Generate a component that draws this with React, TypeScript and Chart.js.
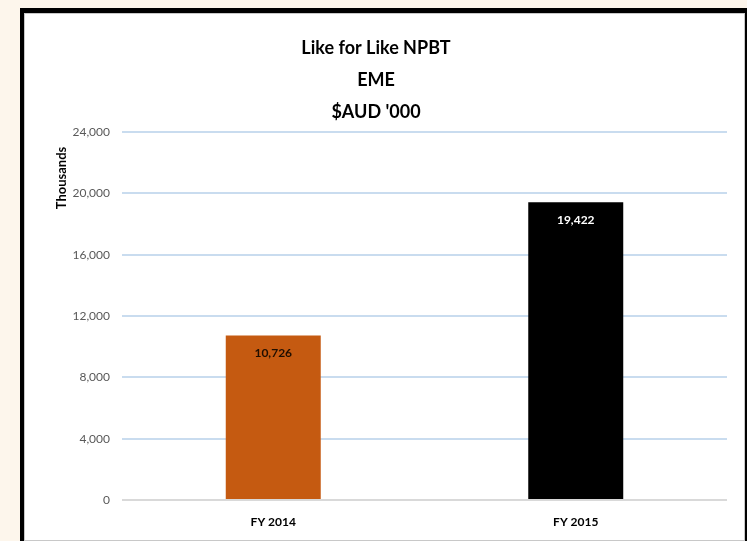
import React, { useEffect, useRef } from "react";
import { Chart, registerables } from "chart.js";

Chart.register(...registerables);

const categories = ["FY 2014", "FY 2015"];
const values = [10726, 19422];
const barColors = ["#C55A11", "#000000"];
const labelColors = ["#1F0E00", "#FFFFFF"];
const titleLines = ["Like for Like NPBT", "EME", "$AUD '000"];
const yAxisTitle = "Thousands";
const yMin = 0;
const yMax = 24000;
const yStep = 4000;

const FONT = "Lato, 'Open Sans', sans-serif";

const fmt = (v: number) => v.toLocaleString("en-US");

const extrasPlugin = {
  id: "extras",
  afterDatasetsDraw(chart: any) {
    const ctx = chart.ctx;
    const meta = chart.getDatasetMeta(0);
    ctx.save();
    ctx.font = `bold 12px ${FONT}`;
    ctx.textAlign = "center";
    ctx.textBaseline = "middle";
    meta.data.forEach((bar: any, i: number) => {
      ctx.fillStyle = labelColors[i];
      ctx.fillText(fmt(values[i]), bar.x, bar.y + 18);
    });
    ctx.restore();
  },
  afterDraw(chart: any) {
    const ctx = chart.ctx;
    const a = chart.chartArea;
    ctx.save();
    ctx.translate(37, a.top + (a.bottom - a.top) * 0.125);
    ctx.rotate(-Math.PI / 2);
    ctx.font = `bold 13px ${FONT}`;
    ctx.fillStyle = "#000000";
    ctx.textAlign = "center";
    ctx.textBaseline = "middle";
    ctx.fillText(yAxisTitle, 0, 0);
    ctx.restore();
  },
};

export default function App() {
  const ref = useRef<HTMLCanvasElement | null>(null);

  useEffect(() => {
    if (!ref.current) return;
    const chart = new Chart(ref.current, {
      type: "bar",
      data: {
        labels: categories,
        datasets: [
          {
            data: values,
            backgroundColor: barColors,
            borderWidth: 0,
            barPercentage: 0.314,
            categoryPercentage: 1,
          },
        ],
      },
      options: {
        animation: false,
        responsive: false,
        layout: { padding: { left: 0, right: 17, top: 0, bottom: 0 } },
        plugins: {
          legend: { display: false },
          tooltip: { enabled: false },
          title: {
            display: true,
            text: titleLines,
            color: "#000000",
            font: { family: FONT, size: 18, weight: "bold", lineHeight: 32 / 18 },
            padding: { top: 18, bottom: 4 },
          },
        },
        scales: {
          x: {
            grid: { display: false, drawTicks: false },
            border: { display: false },
            ticks: {
              color: "#000000",
              font: { family: FONT, size: 12, weight: "bold" },
              padding: 15,
            },
            afterFit: (s: any) => {
              s.height = 40;
            },
          },
          y: {
            min: yMin,
            max: yMax,
            grid: {
              drawTicks: false,
              lineWidth: 2,
              color: (c: any) => (c.tick && c.tick.value === 0 ? "#D9D9D9" : "#C9DCEF"),
            },
            border: { display: false },
            ticks: {
              stepSize: yStep,
              color: "#595959",
              font: { family: FONT, size: 12 },
              padding: 12,
              callback: (v: any) => fmt(Number(v)),
            },
            afterFit: (s: any) => {
              s.width = 97;
            },
          },
        },
      },
      plugins: [extrasPlugin],
    });
    return () => chart.destroy();
  }, []);

  return (
    <div
      style={{
        position: "fixed",
        left: 0,
        top: 0,
        width: 747,
        height: 541,
        background: "#FDF6EC",
        overflow: "hidden",
      }}
    >
      <div
        style={{
          position: "absolute",
          left: 20,
          top: 8,
          width: 727,
          height: 540,
          background: "#000000",
        }}
      >
        <div
          style={{
            position: "absolute",
            left: 4,
            top: 5,
            width: 721,
            height: 528,
            background: "#FFFFFF",
            border: "1px solid #C8C8C8",
            boxSizing: "border-box",
          }}
        >
          <canvas
            ref={ref}
            width={719}
            height={526}
            style={{ position: "absolute", left: 0, top: 0, width: 719, height: 526 }}
          />
        </div>
      </div>
    </div>
  );
}
